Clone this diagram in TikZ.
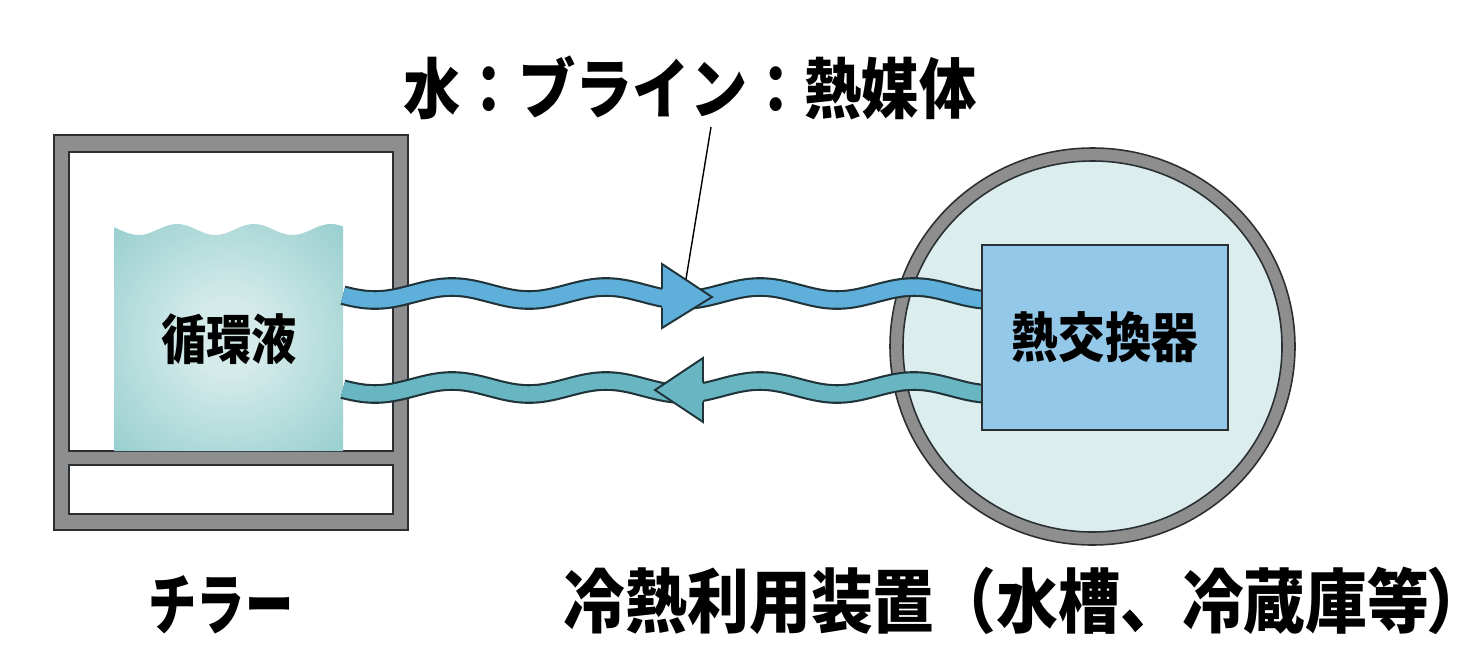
\documentclass[tikz,border=0pt]{standalone}
\usepackage{graphicx}
\usepackage{fontspec}
\newfontfamily\jp{Noto Sans CJK JP}
\definecolor{framegray}{HTML}{8E8E8E}
\definecolor{edge}{HTML}{2A2F33}
\definecolor{liqin}{HTML}{D4EBEA}
\definecolor{liqout}{HTML}{8ECACA}
\definecolor{pipeA}{HTML}{5FAFDB}
\definecolor{pipeB}{HTML}{68B6C2}
\definecolor{pipeedge}{HTML}{1F3338}
\definecolor{tank}{HTML}{DCEDEE}
\definecolor{hxfill}{HTML}{93C8E8}
\pgfdeclareradialshading{liquidshade}{\pgfpoint{0bp}{0bp}}{color(0bp)=(liqin); color(8bp)=(liqin); color(40bp)=(liqout); color(50bp)=(liqout)}
\tikzset{
  outline/.style={draw=edge, line width=0.9pt},
  pipeout/.style={draw=pipeedge, line width=11.2pt},
  pipeinA/.style={draw=pipeA, line width=8.8pt},
  pipeinB/.style={draw=pipeB, line width=8.8pt},
  headA/.style={fill=pipeA},
  headB/.style={fill=pipeB},
  headline/.style={draw=pipeedge, line width=1.1pt, line join=miter},
  bigtext/.style={font=\jp\bfseries\fontsize{32.6pt}{36pt}\selectfont, inner sep=0pt},
  hugetext/.style={font=\jp\bfseries\fontsize{35.2pt}{38pt}\selectfont, inner sep=0pt},
  midtext/.style={font=\jp\bfseries\fontsize{26.5pt}{30pt}\selectfont, inner sep=0pt},
  hxbox/.style={outline, fill=hxfill, minimum width=4.92cm, minimum height=3.7cm, inner sep=0pt},
}
\begin{document}
\begin{tikzpicture}[x=0.02cm, y=-0.02cm]
\useasboundingbox (0,0) rectangle (1464,656);
% chiller frame
\filldraw[outline, fill=framegray] (54,135) rectangle (408,530);
\filldraw[outline, fill=white] (69,152) rectangle (393,451);
\filldraw[outline, fill=white] (69,465) rectangle (393,514);
% liquid
\path[shading=liquidshade] (114,451) -- (114,227.2)
  -- plot[domain=114:343, samples=90] (\x,{229.5-5.5*cos(((\x-177)/77)*360)})
  -- (343,451) -- cycle;
\node[midtext] (liq) at (229,339) {\scalebox{0.97}[1.15]{循環液}};
% tank (cold-use device)
\filldraw[outline, fill=framegray] (1092.5,346.5) ellipse [x radius=202.5, y radius=198.5];
\filldraw[outline, fill=tank] (1092.5,346.5) ellipse [x radius=189.5, y radius=185.5];
% pipes
\draw[pipeout] plot[domain=343:982, samples=220] (\x,{293.5-6.5*cos(((\x-452)/154)*360)});
\draw[pipeinA] plot[domain=343:982, samples=220] (\x,{293.5-6.5*cos(((\x-452)/154)*360)});
\draw[pipeout] plot[domain=343:982, samples=220] (\x,{387.5-6.5*cos(((\x-452)/154)*360)});
\draw[pipeinB] plot[domain=343:982, samples=220] (\x,{387.5-6.5*cos(((\x-452)/154)*360)});
% arrowheads
\fill[headA] (662,264) -- (712,297) -- (662,328) -- cycle;
\draw[headline] (662,288.5) -- (662,264) -- (712,297) -- (662,328) -- (662,307.5);
\fill[headB] (703,358) -- (655,390) -- (703,422) -- cycle;
\draw[headline] (703,382.5) -- (703,358) -- (655,390) -- (703,422) -- (703,401.5);
% heat exchanger
\node[hxbox, midtext] (hx) at (1105,337.5) {\scalebox{1}[1.15]{熱交換器}};
% labels
\node[bigtext] (medium) at (690,88) {\scalebox{1}[1.15]{水：ブライン：熱媒体}};
\node[hugetext] (chiller) at (221,605) {\scalebox{0.78}[1.08]{チラー}};
\node[hugetext] (user) at (1012,601) {\scalebox{1}[1.13]{冷熱利用装置（水槽、冷蔵庫等{\addfontfeatures{RawFeature=+palt}）}}};
% leader line
\coordinate (leadtop) at (711,127);
\coordinate (leadend) at (686,279);
\draw[line width=0.8pt, black] (leadtop) -- (leadend);
\end{tikzpicture}
\end{document}
